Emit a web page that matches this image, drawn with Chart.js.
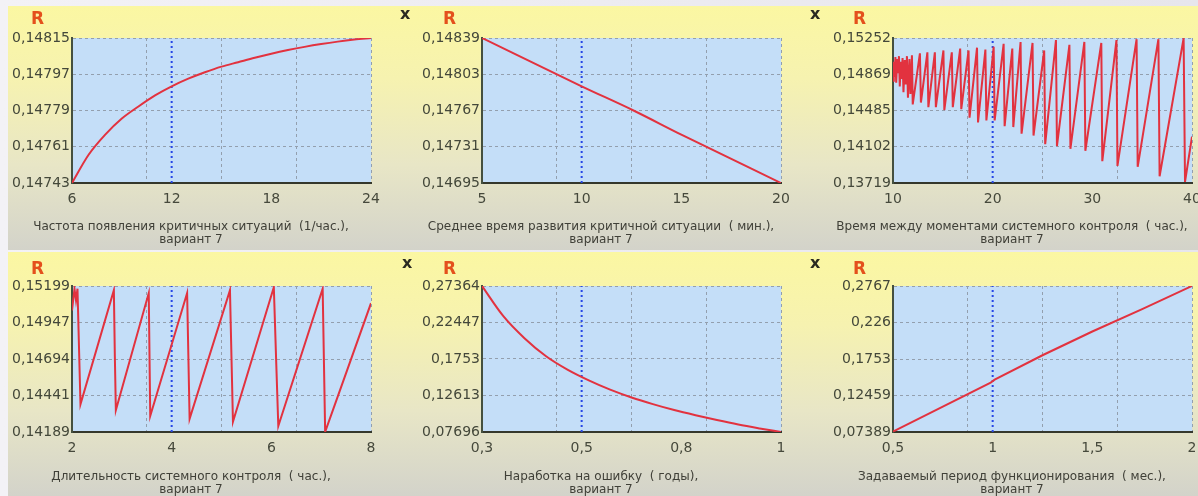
<!DOCTYPE html>
<html>
<head>
<meta charset="utf-8">
<script src="https://cdn.jsdelivr.net/npm/chart.js@4.4.1/dist/chart.umd.min.js"></script>
<style>
  html, body { margin: 0; padding: 0; }
  body {
    width: 1198px; height: 496px; overflow: hidden; position: relative;
    background: linear-gradient(to right, #f3f2f6, #e7e6ec);
    font-family: "DejaVu Sans", sans-serif;
  }
  .row {
    position: absolute; left: 8px; width: 1190px;
    background: linear-gradient(to bottom, #fbf7a2 0%, #f6f2b0 30%, #e8e6c6 65%, #d3d3ca 100%);
  }
  #row1 { top: 6px; height: 244px; }
  #row2 { top: 252px; height: 244px; }
  canvas { position: absolute; display: block; }
  .lblR { position: absolute; color: #e4501c; font: bold 17px "DejaVu Sans"; line-height: 17px; z-index: 2; }
  .lblX { position: absolute; color: #2a2a20; font: bold 16px "DejaVu Sans"; line-height: 16px; z-index: 2; }
  .axTitle {
    position: absolute; width: 400px; text-align: center; z-index: 2;
    font: 12px "DejaVu Sans"; line-height: 13px; color: #404038;
  }
</style>
</head>
<body>
<div id="row1" class="row"></div>
<div id="row2" class="row"></div>

<canvas id="chartFreq" width="410" height="250" style="left:0px;top:0px"></canvas>
<canvas id="chartDev" width="410" height="250" style="left:410px;top:0px"></canvas>
<canvas id="chartPeriod" width="410" height="250" style="left:821px;top:0px"></canvas>
<canvas id="chartDur" width="410" height="246" style="left:0px;top:250px"></canvas>
<canvas id="chartMtbf" width="410" height="246" style="left:410px;top:250px"></canvas>
<canvas id="chartTerm" width="410" height="246" style="left:821px;top:250px"></canvas>

<div class="lblR" style="left:31px;top:10px">R</div>
<div class="lblX" style="left:400px;top:6px">x</div>
<div class="lblR" style="left:443px;top:10px">R</div>
<div class="lblX" style="left:810px;top:6px">x</div>
<div class="lblR" style="left:853px;top:10px">R</div>
<div class="lblR" style="left:31px;top:260px">R</div>
<div class="lblX" style="left:402px;top:255px">x</div>
<div class="lblR" style="left:443px;top:260px">R</div>
<div class="lblX" style="left:810px;top:255px">x</div>
<div class="lblR" style="left:853px;top:260px">R</div>

<div class="axTitle" style="left:-9px;top:220px">Частота появления критичных ситуаций&nbsp; (1/час.),<br>вариант 7</div>
<div class="axTitle" style="left:401px;top:220px">Среднее время развития критичной ситуации&nbsp; ( мин.),<br>вариант 7</div>
<div class="axTitle" style="left:812px;top:220px">Время между моментами системного контроля&nbsp; ( час.),<br>вариант 7</div>
<div class="axTitle" style="left:-9px;top:470px">Длительность системного контроля&nbsp; ( час.),<br>вариант 7</div>
<div class="axTitle" style="left:401px;top:470px">Наработка на ошибку&nbsp; ( годы),<br>вариант 7</div>
<div class="axTitle" style="left:812px;top:470px">Задаваемый период функционирования&nbsp; ( мес.),<br>вариант 7</div>

<script>
// 1. частота появления критичных ситуаций
var freqX = [6, 7, 8, 9, 10, 11, 12, 13, 14, 15, 16, 17, 18, 19, 20, 21, 22, 23, 24];
var freqR = [0.14743, 0.14757, 0.14767, 0.14775, 0.14781, 0.147865, 0.14791, 0.147948, 0.14798, 0.148008,
  0.14803, 0.148052, 0.148072, 0.14809, 0.148106, 0.14812, 0.148132, 0.148142, 0.14815];
var freqXRange = [6, 24];
var freqYRange = [0.14743, 0.14815];
var freqXLabels = ["6", "12", "18", "24"];
var freqYLabels = ["0,14743", "0,14761", "0,14779", "0,14797", "0,14815"]; // снизу вверх
var freqMarker = 12;

// 2. среднее время развития критичной ситуации
var devX = [5, 10, 12.6, 15, 20];
var devR = [0.14839, 0.14791, 0.14767, 0.14743, 0.14695];
var devXRange = [5, 20];
var devYRange = [0.14695, 0.14839];
var devXLabels = ["5", "10", "15", "20"];
var devYLabels = ["0,14695", "0,14731", "0,14767", "0,14803", "0,14839"];
var devMarker = 10;

// 3. время между моментами системного контроля
var periodX = [10.0, 10.08, 10.16, 10.24, 10.32, 10.42, 10.5, 10.6, 10.68, 10.78, 10.86, 10.96, 11.05, 11.18,
  11.28, 11.4, 11.5, 11.65, 11.75, 11.9, 11.98, 12.7, 12.8, 13.45, 13.55, 14.2, 14.3, 15.06, 15.15, 15.9,
  16.0, 16.74, 16.85, 17.58, 17.68, 18.43, 18.53, 19.27, 19.37, 20.1, 20.2, 21.1, 21.2, 21.97, 22.07,
  22.8, 22.9, 24.0, 24.1, 25.17, 25.27, 26.35, 26.45, 27.7, 27.8, 29.2, 29.3, 30.9, 31.0, 32.42, 32.52,
  34.44, 34.55, 36.63, 36.75, 39.16, 39.3, 40.0];
var periodR = [0.1480, 0.1500, 0.1484, 0.1505, 0.1478, 0.1503, 0.1488, 0.1506, 0.1474, 0.1500, 0.1482, 0.1504, 0.1468, 0.1502,
  0.1476, 0.1506, 0.1462, 0.1503, 0.1466, 0.1507, 0.1455, 0.1509, 0.1457, 0.1510, 0.1452, 0.1510, 0.1452, 0.1512, 0.1449, 0.1510,
  0.1452, 0.1514, 0.1450, 0.1512, 0.1441, 0.1515, 0.1436, 0.1513, 0.1438, 0.1516, 0.1438, 0.1519, 0.1432, 0.1514, 0.1431,
  0.1521, 0.1424, 0.1520, 0.1422, 0.1512, 0.1413, 0.1523, 0.1411, 0.1518, 0.1408, 0.1521, 0.1406, 0.1520, 0.1395, 0.1523, 0.1390,
  0.1524, 0.1389, 0.1524, 0.1379, 0.1525, 0.1373, 0.1421];
var periodXRange = [10, 40];
var periodYRange = [0.13719, 0.15252];
var periodXLabels = ["10", "20", "30", "40"];
var periodYLabels = ["0,13719", "0,14102", "0,14485", "0,14869", "0,15252"];
var periodMarker = 20;

// 4. длительность системного контроля
var durX = [2.0, 2.05, 2.08, 2.11, 2.17, 2.84, 2.86, 2.88, 3.54, 3.57, 4.31, 4.36, 5.17, 5.2, 5.23,
  6.05, 6.1, 6.14, 7.03, 7.08, 8.0];
var durR = [0.1503, 0.1518, 0.1510, 0.1518, 0.1438, 0.1517, 0.1471, 0.1434, 0.1515, 0.1430, 0.1515, 0.1428, 0.1517, 0.1471, 0.1426,
  0.1519, 0.1465, 0.1423, 0.1518, 0.1419, 0.1508];
var durXRange = [2, 8];
var durYRange = [0.14189, 0.15199];
var durXLabels = ["2", "4", "6", "8"];
var durYLabels = ["0,14189", "0,14441", "0,14694", "0,14947", "0,15199"];
var durMarker = 4;

// 5. наработка на ошибку
var mtbfX = [0.3, 0.35, 0.4, 0.45, 0.5, 0.55, 0.6, 0.65, 0.7, 0.75, 0.8, 0.85, 0.9, 0.95, 1.0];
var mtbfR = [0.27364, 0.2330, 0.2030, 0.1790, 0.1610, 0.1465, 0.1340, 0.1235, 0.1145, 0.1065, 0.0995, 0.0930, 0.0870, 0.0818, 0.07696];
var mtbfXRange = [0.3, 1];
var mtbfYRange = [0.07696, 0.27364];
var mtbfXLabels = ["0,3", "0,5", "0,8", "1"];
var mtbfYLabels = ["0,07696", "0,12613", "0,1753", "0,22447", "0,27364"];
var mtbfMarker = 0.5333;

// 6. задаваемый период функционирования
var termX = [0.5, 0.75, 0.99, 1.01, 1.25, 1.5, 1.75, 2.0];
var termR = [0.0745, 0.1090, 0.1425, 0.1465, 0.1805, 0.2135, 0.2445, 0.2767];
var termXRange = [0.5, 2];
var termYRange = [0.07389, 0.2767];
var termXLabels = ["0,5", "1", "1,5", "2"];
var termYLabels = ["0,07389", "0,12459", "0,1753", "0,226", "0,2767"];
var termMarker = 1;

var plotBackground = {
  id: "plotBackground",
  beforeDraw: function (chart) {
    var a = chart.chartArea;
    chart.ctx.save();
    chart.ctx.fillStyle = "#c4def8";
    chart.ctx.fillRect(a.left, a.top, a.right - a.left, a.bottom - a.top);
    chart.ctx.restore();
  },
};

function renderPanel(canvasId, xs, ys, xRange, yRange, xLabels, yLabels, marker, plotTop, plotBottom, smooth) {
  var canvas = document.getElementById(canvasId);
  var ctx = canvas.getContext("2d");
  var xMin = xRange[0], xMax = xRange[1];
  var yMin = yRange[0], yMax = yRange[1];
  var span = xMax - xMin;
  var points = xs.map(function (x, i) { return { x: x, y: ys[i] }; });

  return new Chart(ctx, {
    type: "line",
    data: {
      datasets: [
        {
          data: points,
          borderColor: "#e2323f",
          borderWidth: 2,
          pointRadius: 0,
          cubicInterpolationMode: smooth ? "monotone" : "default",
          tension: 0,
        },
        {
          data: [{ x: marker, y: yMin }, { x: marker, y: yMax }],
          borderColor: "#2646e6",
          borderWidth: 2,
          borderDash: [2, 3],
          pointRadius: 0,
        },
      ],
    },
    options: {
      responsive: false,
      animation: false,
      events: [],
      layout: { padding: { top: plotTop, right: 39, left: 0, bottom: 0 } },
      plugins: { legend: { display: false }, tooltip: { enabled: false } },
      scales: {
        x: {
          type: "linear",
          min: xMin,
          max: xMax,
          afterBuildTicks: function (scale) {
            scale.ticks = [0, 0.25, 1 / 3, 0.5, 2 / 3, 0.75, 1].map(function (f) {
              return { value: xMin + f * span };
            });
          },
          afterFit: function (scale) {
            scale.height = canvas.height - plotBottom;
          },
          ticks: {
            autoSkip: false,
            maxRotation: 0,
            padding: 8,
            color: "#46493c",
            font: { family: "DejaVu Sans", size: 14 },
            callback: function (value) {
              for (var k = 0; k < 4; k++) {
                if (Math.abs(value - (xMin + (k * span) / 3)) < span * 1e-6) return xLabels[k];
              }
              return "";
            },
          },
          grid: {
            drawTicks: false,
            lineWidth: 1,
            color: function (c) {
              if (!c.tick) return "rgba(0,0,0,0)";
              var q = ((c.tick.value - xMin) / span) * 4;
              return Math.abs(q - Math.round(q)) < 1e-6 ? "#939fae" : "rgba(0,0,0,0)";
            },
          },
          border: { color: "#35382c", width: 2, dash: [3, 3] },
        },
        y: {
          min: yMin,
          max: yMax,
          afterBuildTicks: function (scale) {
            scale.ticks = [0, 0.25, 0.5, 0.75, 1].map(function (f) {
              return { value: yMin + f * (yMax - yMin) };
            });
          },
          afterFit: function (scale) {
            scale.width = 72;
          },
          ticks: {
            autoSkip: false,
            padding: 2,
            color: "#44483a",
            font: { family: "DejaVu Sans", size: 14 },
            callback: function (value, index) {
              return yLabels[index];
            },
          },
          grid: { drawTicks: false, color: "#939fae", lineWidth: 1 },
          border: { color: "#45503f", width: 2, dash: [3, 3] },
        },
      },
    },
    plugins: [plotBackground],
  });
}

renderPanel("chartFreq", freqX, freqR, freqXRange, freqYRange, freqXLabels, freqYLabels, freqMarker, 38, 183, true);
renderPanel("chartDev", devX, devR, devXRange, devYRange, devXLabels, devYLabels, devMarker, 38, 183, true);
renderPanel("chartPeriod", periodX, periodR, periodXRange, periodYRange, periodXLabels, periodYLabels, periodMarker, 38, 183, false);
renderPanel("chartDur", durX, durR, durXRange, durYRange, durXLabels, durYLabels, durMarker, 36, 182, false);
renderPanel("chartMtbf", mtbfX, mtbfR, mtbfXRange, mtbfYRange, mtbfXLabels, mtbfYLabels, mtbfMarker, 36, 182, true);
renderPanel("chartTerm", termX, termR, termXRange, termYRange, termXLabels, termYLabels, termMarker, 36, 182, false);
</script>
</body>
</html>
